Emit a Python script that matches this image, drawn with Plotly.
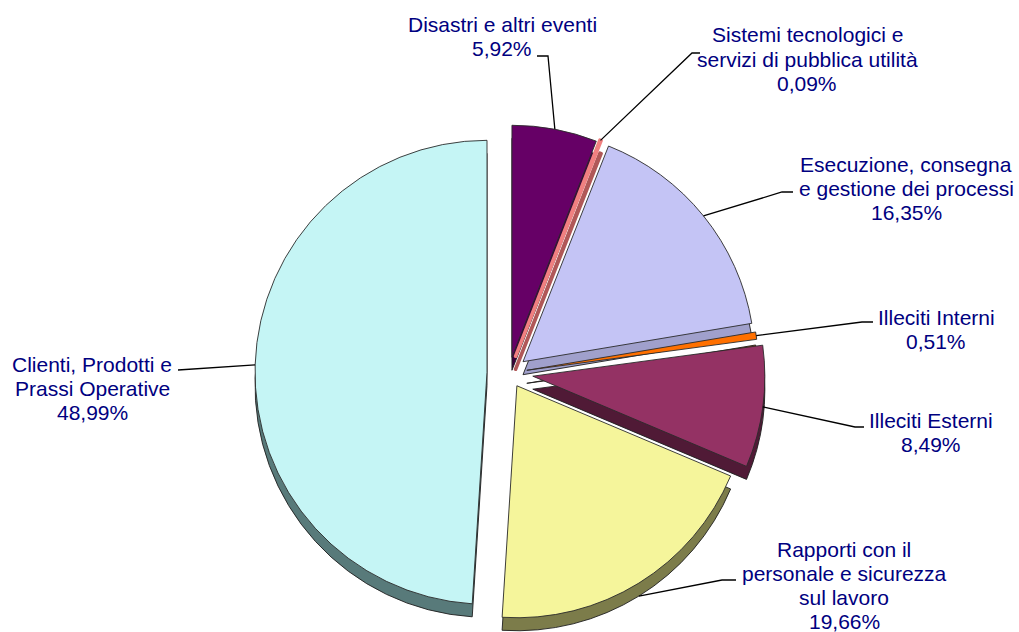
import math
import plotly.graph_objects as go

W, H = 1019, 632

# --- data -------------------------------------------------------------------
categories = [
    "Disastri e altri eventi",
    "Sistemi tecnologici e servizi di pubblica utilità",
    "Esecuzione, consegna e gestione dei processi",
    "Illeciti Interni",
    "Illeciti Esterni",
    "Rapporti con il personale e sicurezza sul lavoro",
    "Clienti, Prodotti e Prassi Operative",
]
shares = [5.92, 0.09, 16.35, 0.51, 8.49, 19.66, 48.99]
label_rows = [
    ["Disastri e altri eventi"],
    ["Sistemi tecnologici e", "servizi di pubblica utilità"],
    ["Esecuzione, consegna", "e gestione dei processi"],
    ["Illeciti Interni"],
    ["Illeciti Esterni"],
    ["Rapporti con il", "personale e sicurezza", "sul lavoro"],
    ["Clienti, Prodotti e", "Prassi Operative"],
]

# --- styling ----------------------------------------------------------------
top_colors = ["#660066", "#F08080", "#C4C4F5", "#FF7000", "#943264", "#F5F59B", "#C5F5F5"]
side_colors = ["#3C003C", "#B05858", "#A0A0CC", "#B04A00", "#501A36", "#7C7C4A", "#587A7A"]
top_edges = ["#2A2A2A", "#F08080", "#2A2A2A", "#2A2A2A", "#2A2A2A", "#2A2A2A", "#2A2A2A"]
side_edges = ["#1E1E1E", "#B05858", "#1E1E1E", "#1E1E1E", "#1E1E1E", "#1E1E1E", "#1E1E1E"]
edge_widths = [0.9, 3.5, 0.9, 0.9, 0.9, 0.9, 0.9]
text_color = "#000080"
font_family = "Arial, 'Liberation Sans', sans-serif"

# pie geometry in pixels
centre = (509, 373)
radius = 232
depth = 13
explode_px = [16, 18, 18, 18, 24, 15, 22]

# label placement (pixels) and leader line routing
label_xy = [(502, 25), (807, 35), (906, 164), (936, 317), (931, 420), (844, 549), (92, 364)]
row_gap = 24
leader_from = [(537, 56), (700, 53), (793, 192), (873, 322), (864, 427), (736, 580), (178, 370)]
leader_elbow = [(548, 56), (692, 53), (782, 192), (862, 322), (855, 427), (722, 580), (178, 370)]
leader_on_side = [False, False, False, False, False, True, False]


def px_x(x):
    return x / W


def px_y(y):
    return 1 - y / H


# mid angle of every slice, clockwise from 12 o'clock
total = sum(shares)
mid_angles = []
running = 0.0
for v in shares:
    mid_angles.append(math.radians(360.0 * (running + v / 2) / total))
    running += v

# apex of each exploded slice
apexes = []
for d, a in zip(explode_px, mid_angles):
    apexes.append((centre[0] + d * math.sin(a), centre[1] - d * math.cos(a)))


def slice_trace(i, colors, edges, dy):
    ax, ay = apexes[i]
    ay += dy
    n = len(shares)
    fill = [colors[i] if j == i else "rgba(0,0,0,0)" for j in range(n)]
    line_cols = [edges[i] if j == i else "rgba(0,0,0,0)" for j in range(n)]
    widths = [edge_widths[i] if j == i else 0 for j in range(n)]
    return go.Pie(
        values=shares,
        labels=categories,
        sort=False,
        direction="clockwise",
        rotation=0,
        textinfo="none",
        hoverinfo="skip",
        showlegend=False,
        marker=dict(colors=fill, line=dict(color=line_cols, width=widths)),
        domain=dict(
            x=[max(0.0, px_x(ax - radius)), min(1.0, px_x(ax + radius))],
            y=[max(0.0, px_y(ay + radius)), min(1.0, px_y(ay - radius))],
        ),
    )


fig = go.Figure()

# extruded side walls first, then the top faces
for i in range(len(shares)):
    fig.add_trace(slice_trace(i, side_colors, side_edges, depth))
for i in range(len(shares)):
    fig.add_trace(slice_trace(i, top_colors, top_edges, 0))

annotations = []
shapes = []
for i, v in enumerate(shares):
    rows = label_rows[i] + [f"{v:.2f}".replace(".", ",") + "%"]
    lx, ly = label_xy[i]
    for k, row in enumerate(rows):
        annotations.append(dict(
            x=px_x(lx), y=px_y(ly + k * row_gap), xref="paper", yref="paper",
            text=row, showarrow=False, xanchor="center", yanchor="middle",
            font=dict(family=font_family, size=21, color=text_color),
        ))

    ax, ay = apexes[i]
    a = mid_angles[i]
    tx = ax + radius * math.sin(a)
    ty = ay - radius * math.cos(a) + (depth if leader_on_side[i] else 0)
    fx, fy = leader_from[i]
    ex, ey = leader_elbow[i]
    shapes.append(dict(
        type="path", xref="paper", yref="paper",
        path=f"M {px_x(fx)},{px_y(fy)} L {px_x(ex)},{px_y(ey)} L {px_x(tx)},{px_y(ty)}",
        line=dict(color="#000000", width=1.3),
        layer="above",
    ))

fig.update_layout(
    width=W,
    height=H,
    margin=dict(l=0, r=0, t=0, b=0),
    paper_bgcolor="white",
    plot_bgcolor="white",
    showlegend=False,
    annotations=annotations,
    shapes=shapes,
)

fig.write_html("out.html")
